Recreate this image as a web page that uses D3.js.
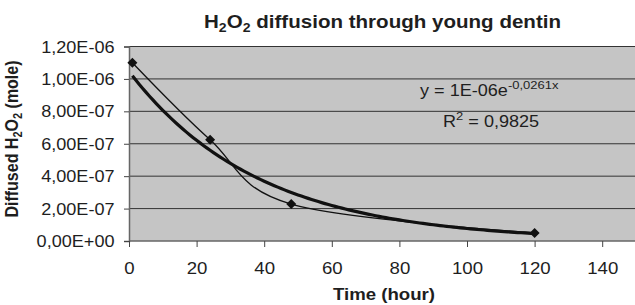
<!DOCTYPE html>
<html>
<head>
<meta charset="utf-8">
<script src="https://cdn.jsdelivr.net/npm/d3@7"></script>
<style>
  body { margin: 0; background: #fff; }
  svg text { font-family: "Liberation Sans", Arial, sans-serif; fill: #1e1e1e; }
</style>
</head>
<body>
<svg id="chart" width="635" height="305"></svg>
<script>
// measured points (hour, mole)
const hours = [1, 24, 48, 120];
const moles = [1.10e-6, 6.25e-7, 2.28e-7, 5.0e-8];
const xTicks = [0, 20, 40, 60, 80, 100, 120, 140];
const yTicks = [0, 2e-7, 4e-7, 6e-7, 8e-7, 1e-6, 1.2e-6];

const margin = {top: 46.5, right: 0, bottom: 64, left: 129};
const width = 635, height = 305;
const sx = 1.13; // text in the original looks a bit wide

const svg = d3.select('#chart');

const x = d3.scaleLinear().domain([0, 150]).range([margin.left, 636]);
const y = d3.scaleLinear().domain([0, 1.2e-6]).range([height - margin.bottom, margin.top]);

// plot background
svg.append('rect')
    .attr('x', x(0)).attr('y', y(1.2e-6))
    .attr('width', x(150) - x(0)).attr('height', y(0) - y(1.2e-6))
    .attr('fill', '#c5c5c5');

// gridlines
svg.append('g').selectAll('line')
    .data(yTicks.filter(d => d > 0))
    .enter().append('line')
        .attr('x1', x(0)).attr('x2', width)
        .attr('y1', d => y(d)).attr('y2', d => y(d))
        .attr('stroke', '#333')
        .attr('stroke-width', 1);

// excel style label: 1,20E-06
function sci(v) {
    if (v === 0) return '0,00E+00';
    let e = Math.floor(Math.log10(v) + 1e-9);
    let m = v / Math.pow(10, e);
    let es = (e < 0 ? '-' : '+') + String(Math.abs(e)).padStart(2, '0');
    return m.toFixed(2).replace('.', ',') + 'E' + es;
}

let yAxis = d3.axisLeft(y).tickValues(yTicks).tickSize(5).tickFormat(sci);
let gy = svg.append('g')
    .attr('transform', 'translate(' + x(0) + ',0)')
    .call(yAxis);
gy.selectAll('text')
    .style('font-size', '16px')
    .attr('x', -14.5 / sx)
    .attr('dy', '0.35em')
    .attr('transform', 'scale(' + sx + ',1)');

let xAxis = d3.axisBottom(x).tickValues(xTicks).tickSize(6).tickFormat(d3.format('d'));
let gx = svg.append('g')
    .attr('transform', 'translate(0,' + y(0) + ')')
    .call(xAxis);
gx.selectAll('text')
    .style('font-size', '16.5px')
    .attr('y', 33).attr('dy', null)
    .attr('transform', 'scale(' + sx + ',1)');

[gx, gy].forEach(g => {
    g.select('.domain').attr('stroke', '#666').attr('stroke-width', 1.5);
    g.selectAll('.tick line').attr('stroke', '#444');
});
gx.select('.domain').attr('d', 'M' + x(0) + ',0H' + width);

const pts = hours.map((h, i) => [h, moles[i]]);

// exponential least squares fit on ln(y), like the excel trendline
let lx = d3.mean(hours), ly = d3.mean(moles, m => Math.log(m));
let sxy = d3.sum(pts, p => (p[0] - lx) * (Math.log(p[1]) - ly));
let sxx = d3.sum(hours, h => (h - lx) * (h - lx));
let k = sxy / sxx;
let a = Math.exp(ly - k * lx);
let trend = d3.range(hours[0], hours[hours.length - 1] + 0.5, 1).map(h => [h, a * Math.exp(k * h)]);

let line = d3.line().x(d => x(d[0])).y(d => y(d[1]));

svg.append('path')
    .attr('d', line(trend))
    .attr('fill', 'none')
    .attr('stroke', '#111')
    .attr('stroke-width', 3.2);

svg.append('path')
    .attr('d', line.curve(d3.curveCardinal.tension(0))(pts))
    .attr('fill', 'none')
    .attr('stroke', '#111')
    .attr('stroke-width', 1.3);

svg.append('g').selectAll('path')
    .data(pts)
    .enter().append('path')
        .attr('transform', d => 'translate(' + x(d[0]) + ',' + y(d[1]) + ')')
        .attr('d', 'M0,-5L5,0L0,5L-5,0Z')
        .attr('fill', '#111');

function stretched(px, py, size) {
    return svg.append('text')
        .attr('transform', 'translate(' + px + ',' + py + ') scale(' + sx + ',1)')
        .style('font-size', size + 'px');
}

// title
let title = stretched(382.5, 27.5, 18.2)
    .attr('text-anchor', 'middle')
    .style('font-weight', 'bold');
title.append('tspan').text('H');
title.append('tspan').attr('dy', 4).style('font-size', '12.5px').text('2');
title.append('tspan').attr('dy', -4).text('O');
title.append('tspan').attr('dy', 4).style('font-size', '12.5px').text('2');
title.append('tspan').attr('dy', -4).text(' diffusion through young dentin');

// axis titles
stretched(384, 299.5, 16.5)
    .attr('text-anchor', 'middle')
    .style('font-weight', 'bold')
    .text('Time (hour)');

let ylab = svg.append('text')
    .attr('transform', 'translate(17.5,139) rotate(-90) scale(1,' + sx + ')')
    .attr('text-anchor', 'middle')
    .style('font-size', '16px').style('font-weight', 'bold');
ylab.append('tspan').text('Diffused H');
ylab.append('tspan').attr('dy', 4).style('font-size', '11px').text('2');
ylab.append('tspan').attr('dy', -4).text('O');
ylab.append('tspan').attr('dy', 4).style('font-size', '11px').text('2');
ylab.append('tspan').attr('dy', -4).text(' (mole)');

// equation of the trendline
let eq = stretched(420, 95.5, 16);
eq.append('tspan').text('y = 1E-06e');
eq.append('tspan').attr('dy', -7).style('font-size', '11.5px').text('-0,0261x');

let r2 = stretched(443, 126.5, 16);
r2.append('tspan').text('R');
r2.append('tspan').attr('dy', -7).style('font-size', '11.5px').text('2');
r2.append('tspan').attr('dy', 7).text(' = 0,9825');
</script>
</body>
</html>
